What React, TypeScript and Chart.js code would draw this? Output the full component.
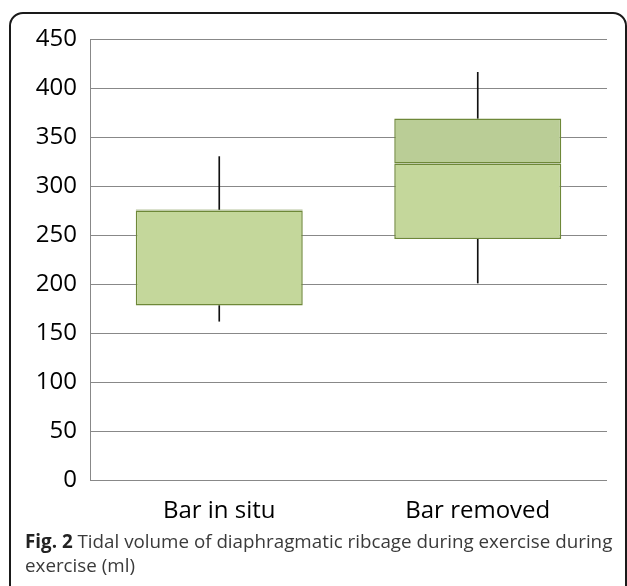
import React, { useEffect, useRef } from 'react';
import { Chart, registerables } from 'chart.js';

Chart.register(...registerables);

const categories = ['Bar in situ', 'Bar removed'];
const whiskerMin = [162, 201];
const q1 = [178, 246];
const median = [275, 323];
const q3 = [276, 369];
const whiskerMax = [330, 416];
const yMin = 0;
const yMax = 450;
const yStep = 50;

const FONT = "'Open Sans', sans-serif";
const BORDER = '#6E8838';

export default function App() {
  const ref = useRef<HTMLCanvasElement | null>(null);

  useEffect(() => {
    if (!ref.current) return;
    const chart = new Chart(ref.current, {
      type: 'bar',
      data: {
        labels: categories,
        datasets: [
          {
            label: 'Q1-Median',
            data: categories.map((_, i) => [q1[i], median[i]]) as any,
            backgroundColor: '#C4D79B',
            borderColor: BORDER,
            borderWidth: { top: 1.5, bottom: 1.5, left: 1.5, right: 1.5 },
            borderSkipped: false,
            grouped: false,
            barPercentage: 0.646,
            categoryPercentage: 1,
          } as any,
          {
            label: 'Median-Q3',
            data: categories.map((_, i) => [median[i], q3[i]]) as any,
            backgroundColor: '#BACD96',
            borderColor: BORDER,
            borderWidth: { top: 1.5, bottom: 1.5, left: 1.5, right: 1.5 },
            borderSkipped: false,
            grouped: false,
            barPercentage: 0.646,
            categoryPercentage: 1,
          } as any,
          {
            label: 'Lower whisker',
            data: categories.map((_, i) => [whiskerMin[i], q1[i]]) as any,
            backgroundColor: '#111',
            borderWidth: 0,
            grouped: false,
            barThickness: 1,
          } as any,
          {
            label: 'Upper whisker',
            data: categories.map((_, i) => [q3[i], whiskerMax[i]]) as any,
            backgroundColor: '#111',
            borderWidth: 0,
            grouped: false,
            barThickness: 1,
          } as any,
        ],
      },
      options: {
        responsive: false,
        animation: false,
        layout: { padding: { left: 0, right: 20, top: 39, bottom: 0 } },
        plugins: { legend: { display: false }, tooltip: { enabled: false } },
        scales: {
          x: {
            grid: { display: false, drawTicks: false },
            border: { display: false },
            ticks: { color: '#000', font: { family: FONT, size: 24 }, padding: 17 },
            afterFit: (s: any) => { s.height = 50; },
          },
          y: {
            min: yMin,
            max: yMax,
            ticks: { stepSize: yStep, color: '#000', font: { family: FONT, size: 24 }, padding: 13 },
            grid: { color: '#888888', lineWidth: 1, drawTicks: false },
            border: { display: true, color: '#888888', width: 1 },
            afterFit: (s: any) => { s.width = 90; },
          },
        },
      } as any,
    });
    return () => chart.destroy();
  }, []);

  return (
    <div style={{ position: 'fixed', left: 0, top: 0, width: 627, height: 586, overflow: 'hidden', background: '#fff' }}>
      <div
        style={{
          position: 'absolute',
          left: 9,
          top: 12,
          width: 618,
          height: 620,
          boxSizing: 'border-box',
          border: '2px solid #1a1a1a',
          borderRadius: 14,
        }}
      />
      <canvas ref={ref} width={627} height={530} style={{ position: 'absolute', left: 0, top: 0 }} />
      <div
        style={{
          position: 'absolute',
          left: 25,
          top: 529,
          fontFamily: FONT,
          fontSize: 18.8,
          lineHeight: '24px',
          color: '#3a3a3a',
          whiteSpace: 'nowrap',
        }}
      >
        <span style={{ fontWeight: 700, color: '#222' }}>Fig. 2</span> Tidal volume of diaphragmatic ribcage during exercise during
        <br />
        exercise (ml)
      </div>
    </div>
  );
}
